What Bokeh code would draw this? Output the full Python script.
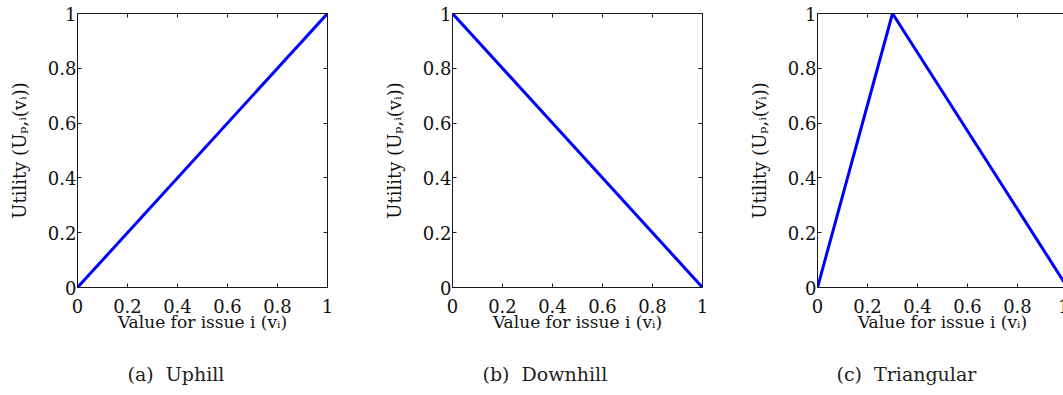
from bokeh.plotting import figure
from bokeh.models import LinearAxis, Title, FixedTicker, Range1d
from bokeh.layouts import row
from bokeh.embed import file_html
from bokeh.resources import INLINE

# ---- data ----
x_uphill = [0, 1]
y_uphill = [0, 1]
x_downhill = [0, 1]
y_downhill = [1, 0]
x_triangular = [0, 0.3, 1]
y_triangular = [0, 1, 0]
tick_values = [0, 0.2, 0.4, 0.6, 0.8, 1]
tick_labels = ["0", "0.2", "0.4", "0.6", "0.8", "1"]
captions = ["(a)\u00a0\u00a0Uphill", "(b)\u00a0\u00a0Downhill", "(c)\u00a0\u00a0Triangular"]
x_title = "Value for issue i (vᵢ)"
y_title = "Utility (Uₚ,ᵢ(vᵢ))"

SERIF = "DejaVu Serif"
AX_COLOR = "#1a1a1a"
overrides = {v: l for v, l in zip(tick_values, tick_labels)}
blank = {v: "" for v in tick_values}


def make_panel(xs, ys, caption, border_left, border_right, cap_offset):
    p = figure(frame_width=250, frame_height=274,
               x_range=Range1d(0, 1), y_range=Range1d(0, 1),
               min_border_left=border_left, min_border_right=border_right,
               min_border_top=13, min_border_bottom=100,
               output_backend="svg", toolbar_location=None,
               x_axis_location=None, y_axis_location=None)
    p.grid.visible = False
    p.outline_line_color = None
    p.background_fill_color = "white"
    p.border_fill_color = "white"

    ticker = FixedTicker(ticks=tick_values)

    def style(ax, labels):
        ax.ticker = ticker
        ax.axis_line_color = AX_COLOR
        ax.axis_line_width = 1
        ax.major_tick_line_color = AX_COLOR
        ax.major_tick_in = 4
        ax.major_tick_out = 0
        ax.minor_tick_line_color = None
        if labels:
            ax.major_label_overrides = overrides
            ax.major_label_text_font = SERIF
            ax.major_label_text_font_size = "18px"
            ax.major_label_text_color = "#111111"
        else:
            ax.major_label_overrides = blank
            ax.major_label_text_font_size = "1px"
            ax.major_label_standoff = 0

    bottom = LinearAxis(axis_label=x_title)
    style(bottom, True)
    bottom.major_label_standoff = 11
    bottom.axis_label_text_font = SERIF
    bottom.axis_label_text_font_size = "17px"
    bottom.axis_label_text_font_style = "normal"
    bottom.axis_label_text_color = "#111111"
    bottom.axis_label_standoff = -4
    p.add_layout(bottom, "below")

    left = LinearAxis(axis_label=y_title)
    style(left, True)
    left.major_label_standoff = 1
    left.axis_label_text_font = SERIF
    left.axis_label_text_font_size = "18px"
    left.axis_label_text_font_style = "normal"
    left.axis_label_text_color = "#111111"
    left.axis_label_standoff = 15
    p.add_layout(left, "left")

    top = LinearAxis()
    style(top, False)
    p.add_layout(top, "above")
    right = LinearAxis()
    style(right, False)
    p.add_layout(right, "right")

    cap = Title(text=caption, align="left", offset=cap_offset,
                text_font=SERIF, text_font_size="19px",
                text_font_style="normal", text_color="#222222",
                standoff=52)
    p.add_layout(cap, "below")

    p.line(xs, ys, line_color="#0000ff", line_width=3, line_join="round")
    return p


p1 = make_panel(x_uphill, y_uphill, captions[0], 77, 53, 50)
p2 = make_panel(x_downhill, y_downhill, captions[1], 69, 43, 30)
p3 = make_panel(x_triangular, y_triangular, captions[2], 69, 2, 19)

layout = row(p1, p2, p3)
open("out.html", "w").write(file_html(layout, INLINE))
